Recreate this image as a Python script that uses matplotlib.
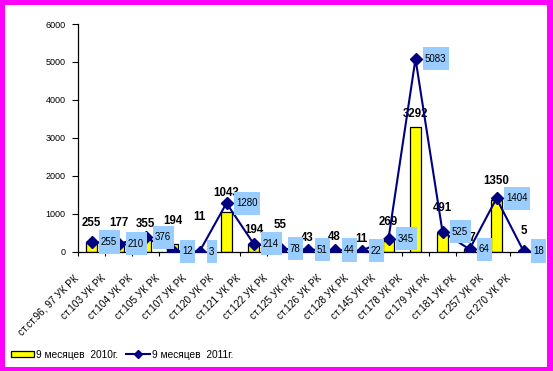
import numpy as np
import matplotlib.pyplot as plt
from matplotlib.patches import Rectangle
from matplotlib.lines import Line2D
from matplotlib.path import Path
import matplotlib.transforms as mtransforms

plt.rcParams['font.family'] = ['Liberation Sans', 'DejaVu Sans']

# data
categories = ['ст.ст.96, 97 УК РК', 'ст.103 УК РК', 'ст.104 УК РК', 'ст.105 УК РК',
              'ст.107 УК РК', 'ст.120 УК РК', 'ст.121 УК РК', 'ст.122 УК РК',
              'ст.125 УК РК', 'ст.126 УК РК', 'ст.128 УК РК', 'ст.145 УК РК',
              'ст.178 УК РК', 'ст.179 УК РК', 'ст.181 УК РК', 'ст.257 УК РК',
              'ст.270 УК РК']
values_2010 = [255, 177, 355, 194, 11, 1043, 194, 55, 43, 48, 11, 269, 3292, 491, 77, 1350, 5]
values_2011 = [255, 210, 376, 12, 3, 1280, 214, 78, 51, 44, 22, 345, 5083, 525, 64, 1404, 18]
label_2010 = '9 месяцев  2010г.'
label_2011 = '9 месяцев  2011г.'

# how far (points) each 2010 label sits above its bar, as in the original
lift_2010 = [14, 16, 10, 17, 25, 14, 10, 18, 9, 9, 9, 14, 9, 18, 8, 14, 15]


def tall_box(x0, y0, width, height, mutation_size):
    # excel-like label box: narrow side padding, tall
    px, py = 0.25 * mutation_size, 0.68 * mutation_size
    x0, y0 = x0 - px, y0 - py
    x1, y1 = x0 + width + 2 * px, y0 + height + 2 * py
    return Path([(x0, y0), (x1, y0), (x1, y1), (x0, y1), (x0, y0)], closed=True)


fig = plt.figure(figsize=(5.53, 3.71), dpi=100)
fig.patch.set_facecolor('#FF00FF')
fig.patches.append(Rectangle((5 / 553, 4 / 371), 542 / 553, 362 / 371,
                             transform=fig.transFigure, facecolor='white',
                             edgecolor='none', zorder=-1))

ax = fig.add_axes([78 / 553, 1 - 251.7 / 371, 459 / 553, 227.7 / 371])
ax.patch.set_alpha(0)

x = np.arange(len(categories))
ax.bar(x, values_2010, width=0.44, color='#FFFF00', edgecolor='black',
       linewidth=0.9, zorder=2)
ax.plot(x, values_2011, color='#000080', lw=1.5, marker='D', markersize=6,
        zorder=4)

# value labels
for xi, v, d in zip(x, values_2010, lift_2010):
    ax.annotate(str(v), (xi, v), xytext=(0, d), textcoords='offset points',
                ha='center', va='center', fontsize=8.3, fontweight='bold',
                zorder=3)
for xi, v in zip(x, values_2011):
    ax.annotate(str(v), (xi, v), xytext=(6.8, 0), textcoords='offset points',
                ha='left', va='center', fontsize=7, zorder=5,
                bbox=dict(boxstyle=tall_box, facecolor='#99CCFF',
                          edgecolor='none'))

ax.set_xlim(-0.5, len(categories) - 0.5)
ax.set_ylim(0, 6000)
ax.set_yticks(range(0, 6001, 1000))
ax.tick_params(axis='y', labelsize=6.5, length=4, width=0.8, pad=5)

ax.set_xticks(x)
ax.set_xticklabels(categories, rotation=45, ha='right',
                   rotation_mode='anchor', fontsize=7.2)
ax.tick_params(axis='x', which='major', length=0, pad=0)
shift = mtransforms.ScaledTranslation(-0.18, -0.21, fig.dpi_scale_trans)
for lab in ax.get_xticklabels():
    lab.set_transform(lab.get_transform() + shift)
ax.set_xticks(np.arange(-0.5, len(categories)), minor=True)
ax.tick_params(axis='x', which='minor', length=3, width=0.8)

for s in ['top', 'right']:
    ax.spines[s].set_visible(False)
for s in ['left', 'bottom']:
    ax.spines[s].set_linewidth(0.9)

handles = [Rectangle((0, 0), 1, 1, facecolor='#FFFF00', edgecolor='black', linewidth=0.9),
           Line2D([], [], color='#000080', lw=1.5, marker='D', markersize=4)]
fig.legend(handles, [label_2010, label_2011], loc='lower left',
           bbox_to_anchor=(0.012, 0.02), ncol=2, frameon=False, fontsize=7.3,
           handlelength=2.3, handleheight=0.6, handletextpad=0.2,
           columnspacing=0.8, borderaxespad=0)

fig.savefig('out.png', dpi=100, facecolor=fig.get_facecolor())
